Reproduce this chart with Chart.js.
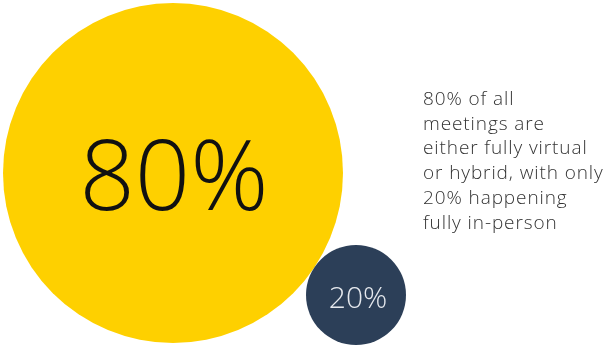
<!DOCTYPE html>
<html>
<head>
<meta charset="utf-8">
<script src="https://cdn.jsdelivr.net/npm/chart.js@4"></script>
<style>
	html, body { margin: 0; padding: 0; background: #fff; }
	#wrap { position: relative; width: 604px; height: 345px; }
	#note {
		position: absolute; left: 423px; top: 86px;
		font-family: "Open Sans", sans-serif; font-weight: 300;
		font-size: 19px; line-height: 24.7px; letter-spacing: 0.9px; color: #333;
		white-space: nowrap;
	}
</style>
</head>
<body>
<div id="wrap">
	<canvas id="bubbleChart" width="604" height="345"></canvas>
	<div id="note"></div>
</div>
<script>
// chart data
var categories = ['Virtual or hybrid', 'Fully in-person'];
var shares = [80, 20];
var posX = [173, 356];
var posY = [173, 295];
var noteLines = ['80% of all', 'meetings are', 'either fully virtual', 'or hybrid, with only', '20% happening', 'fully in-person'];

var colors = ['#FED000', '#2C3F58'];
var labelColors = ['#111111', '#E6E9EE'];
var labelSizes = [97, 30];

document.getElementById('note').innerHTML = noteLines.join('<br>');

// Draw the percentage labels on top of each bubble
var bubbleLabels = {
	id: 'bubbleLabels',
	afterDatasetsDraw: function(chart) {
		var ctx = chart.ctx;
		var meta = chart.getDatasetMeta(0);
		meta.data.forEach(function(el, i) {
			ctx.save();
			ctx.fillStyle = labelColors[i];
			ctx.font = '300 ' + labelSizes[i] + 'px "Open Sans", sans-serif';
			ctx.textAlign = 'center';
			ctx.textBaseline = 'middle';
			ctx.fillText(shares[i] + '%', el.x + (i === 0 ? 1 : 2), el.y + (i === 0 ? 9 : 4));
			ctx.restore();
		});
	}
};

new Chart(document.getElementById('bubbleChart').getContext('2d'), {
	type: 'bubble',
	data: {
		labels: categories,
		datasets: [{
			data: shares.map(function(v, i) {
				return { x: posX[i], y: posY[i], v: v };
			}),
			backgroundColor: colors,
			borderWidth: 0,
			hoverBorderWidth: 0,
			radius: function(c) {
				var v = c.raw ? c.raw.v : 0;
				return 2 * v + 10;
			}
		}]
	},
	options: {
		responsive: false,
		animation: false,
		layout: { padding: 0, autoPadding: false },
		plugins: {
			legend: { display: false },
			tooltip: { enabled: false }
		},
		scales: {
			x: { type: 'linear', min: 0, max: 604, display: false },
			y: { type: 'linear', min: 0, max: 345, reverse: true, display: false }
		}
	},
	plugins: [bubbleLabels]
});
</script>
</body>
</html>
